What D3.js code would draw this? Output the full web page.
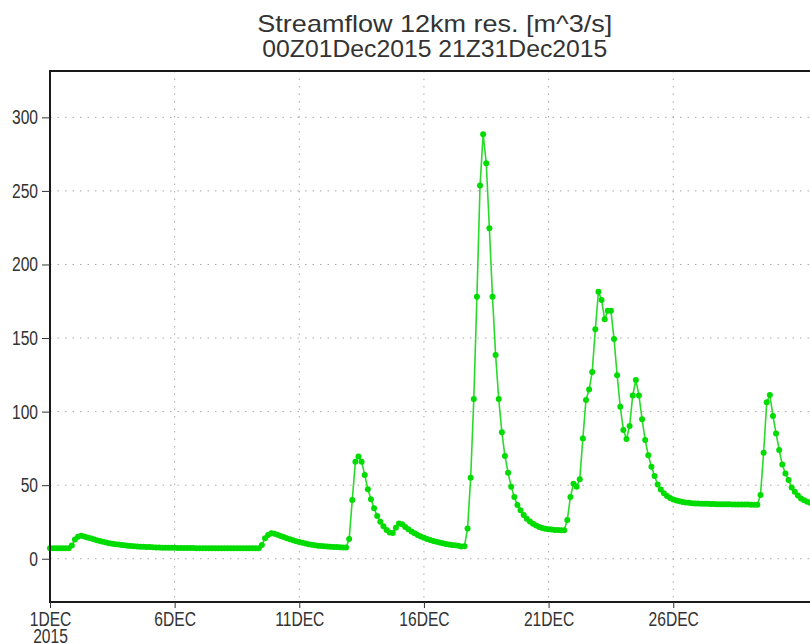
<!DOCTYPE html>
<html>
<head>
<meta charset="utf-8">
<script src="https://cdn.jsdelivr.net/npm/d3@7"></script>
<style>
  body { margin: 0; background: #fff; }
  svg text { fill: #333; }
  .tick text { font-family: "Liberation Sans", sans-serif; font-size: 20px; }
  .title { font-family: "Liberation Sans", sans-serif; font-size: 24px; }
  .grid { stroke: #a8a8a8; stroke-width: 1; stroke-dasharray: 1.5, 6; }
</style>
</head>
<body>
<svg id="chart" width="810" height="644"></svg>
<script>
// 3-hourly series, 00Z01Dec2015 .. 21Z31Dec2015
let startTime = Date.UTC(2015, 11, 1, 0);
let stepHours = 3;

let flow = [
  7.2, 7.2, 7.2, 7.2, 7.2, 7.2, 7.2,
  9.0, 13.0, 15.0, 15.6, 15.1, 14.5, 13.9, 13.2, 12.6, 12.0, 11.5, 11.0, 10.6, 10.2,
  9.9, 9.6, 9.3, 9.1, 8.9, 8.7, 8.5, 8.3, 8.2, 8.1, 8.0, 7.9, 7.8, 7.7, 7.6, 7.5, 7.5,
  7.4, 7.4, 7.4, 7.3, 7.3, 7.3, 7.3, 7.3, 7.3, 7.2, 7.2, 7.2, 7.2, 7.2, 7.2, 7.2,
  7.2, 7.2, 7.2, 7.1, 7.1, 7.1, 7.1, 7.1, 7.1, 7.1, 7.1, 7.1, 7.1, 7.2,
  9.3, 14.0, 16.2, 17.3, 17.0, 16.3, 15.5, 14.7, 13.9, 13.2, 12.5, 11.9, 11.3, 10.8,
  10.3, 9.9, 9.5, 9.2, 8.9, 8.7, 8.5, 8.3, 8.1, 8.0, 7.9, 7.8, 7.7, 7.6,
  13.4, 40.0, 66.0, 69.5, 66.0, 57.0, 47.2, 40.4, 34.3, 29.0, 25.2, 22.0, 19.5, 17.8,
  17.5, 21.0, 24.0, 23.5, 21.5, 20.0, 18.6, 17.3, 16.2, 15.2, 14.3, 13.5, 12.8, 12.1,
  11.5, 11.0, 10.5, 10.1, 9.7, 9.4, 9.1, 8.9, 8.3, 8.5,
  20.6, 55.0, 108.6, 178.0, 253.6, 288.5, 268.8, 224.6, 178.0, 138.5, 108.6, 86.0,
  69.8, 58.5, 49.0, 42.0, 36.5,
  33.0, 29.8, 27.2, 25.3, 23.8, 22.6, 21.6, 20.9, 20.4, 20.0, 19.8, 19.6, 19.5, 19.4, 19.4,
  26.3, 42.0, 51.0, 49.0, 54.0, 81.8, 107.9, 115.0, 127.0, 156.0, 181.5, 175.9, 162.7,
  168.6, 168.6, 149.4, 124.7, 103.3, 87.5, 81.4, 90.2, 111.0, 121.5, 111.0, 94.8, 80.7,
  70.3, 62.5, 56.2, 50.5, 47.0,
  44.5, 42.6, 41.3, 40.3, 39.6, 39.0, 38.6, 38.3, 38.0, 37.8, 37.6, 37.5, 37.4, 37.3,
  37.3, 37.2, 37.2, 37.1, 37.1, 37.0, 37.0, 37.0, 36.9, 36.9, 36.9, 36.8, 36.8, 36.8,
  36.7, 36.7, 36.7,
  43.3, 72.0, 106.3, 111.3, 97.0, 85.2, 73.9, 64.0, 58.0, 53.5, 48.5, 45.5, 43.0, 41.0,
  39.8, 38.8, 38.0, 37.4, 36.9, 36.5
];

let yTicks = [0, 50, 100, 150, 200, 250, 300];
let xTickDays = [1, 6, 11, 16, 21, 26];
let xTickLabels = ["1DEC", "6DEC", "11DEC", "16DEC", "21DEC", "26DEC"];
let yearLabel = "2015";
let titleLines = ["Streamflow 12km res. [m^3/s]", "00Z01Dec2015 21Z31Dec2015"];

let svg = d3.select("#chart");
let margin = { top: 71, left: 50, right: 819.7, bottom: 602 };

function buildData() {
  return flow.map(function(d, i) {
    return { time: new Date(startTime + i * stepHours * 3600 * 1000), value: d };
  });
}

// narrow the tick labels, the original font is condensed
function condense(selection, factor) {
  selection.each(function() {
    let len = this.getComputedTextLength();
    d3.select(this)
      .attr("textLength", len * factor)
      .attr("lengthAdjust", "spacingAndGlyphs");
  });
}

function drawChart() {
  let data = buildData();

  let x = d3.scaleUtc()
    .domain(d3.extent(data, function(d) { return d.time; }))
    .range([margin.left, margin.right]);

  let y = d3.scaleLinear()
    .domain([-29.4, 331.5])
    .range([margin.bottom, margin.top]);

  let xTickDates = xTickDays.map(function(d) { return new Date(Date.UTC(2015, 11, d)); });

  // dotted grid
  svg.append("g")
    .selectAll("line")
      .data(yTicks)
    .enter().append("line")
      .classed("grid", true)
      .attr("x1", margin.left)
      .attr("x2", margin.right)
      .attr("y1", function(d) { return y(d); })
      .attr("y2", function(d) { return y(d); });

  svg.append("g")
    .selectAll("line")
      .data(xTickDates.slice(1))
    .enter().append("line")
      .classed("grid", true)
      .attr("x1", function(d) { return x(d); })
      .attr("x2", function(d) { return x(d); })
      .attr("y1", margin.top)
      .attr("y2", margin.bottom);

  // series
  let line = d3.line()
    .x(function(d) { return x(d.time); })
    .y(function(d) { return y(d.value); });

  svg.append("path")
    .datum(data)
    .attr("d", line)
    .attr("fill", "none")
    .attr("stroke", "#2ada2a")
    .attr("stroke-width", 1.6);

  svg.append("g")
    .selectAll("circle")
      .data(data)
    .enter().append("circle")
      .attr("cx", function(d) { return x(d.time); })
      .attr("cy", function(d) { return y(d.value); })
      .attr("r", 3)
      .attr("fill", "#00dc00");

  // frame
  svg.append("rect")
    .attr("x", margin.left)
    .attr("y", margin.top)
    .attr("width", margin.right - margin.left)
    .attr("height", margin.bottom - margin.top)
    .attr("fill", "none")
    .attr("stroke", "#1a1a1a")
    .attr("stroke-width", 2);

  // axes
  let yAxis = d3.axisLeft(y)
    .tickValues(yTicks)
    .tickSize(8)
    .tickPadding(4)
    .tickFormat(d3.format("d"));

  let yGroup = svg.append("g")
    .attr("transform", "translate(" + margin.left + ",0)")
    .call(yAxis);
  yGroup.select(".domain").remove();
  yGroup.selectAll(".tick line").attr("stroke", "#333");
  condense(yGroup.selectAll(".tick text"), 0.78);

  let xAxis = d3.axisBottom(x)
    .tickValues(xTickDates)
    .tickSize(6)
    .tickPadding(4)
    .tickFormat(function(d, i) { return xTickLabels[i]; });

  let xGroup = svg.append("g")
    .attr("transform", "translate(0," + margin.bottom + ")")
    .call(xAxis);
  xGroup.select(".domain").remove();
  xGroup.selectAll(".tick line").attr("stroke", "#333");

  xGroup.select(".tick")
    .append("text")
      .attr("y", 10)
      .attr("dy", "1.55em")
      .attr("fill", "#333")
      .text(yearLabel);

  condense(xGroup.selectAll(".tick text"), 0.78);

  // title
  svg.selectAll(".title")
    .data(titleLines)
  .enter().append("text")
    .classed("title", true)
    .attr("x", (margin.left + margin.right) / 2)
    .attr("y", function(d, i) { return i === 0 ? 32 : 57; })
    .attr("text-anchor", "middle")
    .attr("textLength", function(d, i) { return i === 0 ? 355 : 345; })
    .attr("lengthAdjust", "spacingAndGlyphs")
    .text(function(d) { return d; });
}

drawChart();
</script>
</body>
</html>
